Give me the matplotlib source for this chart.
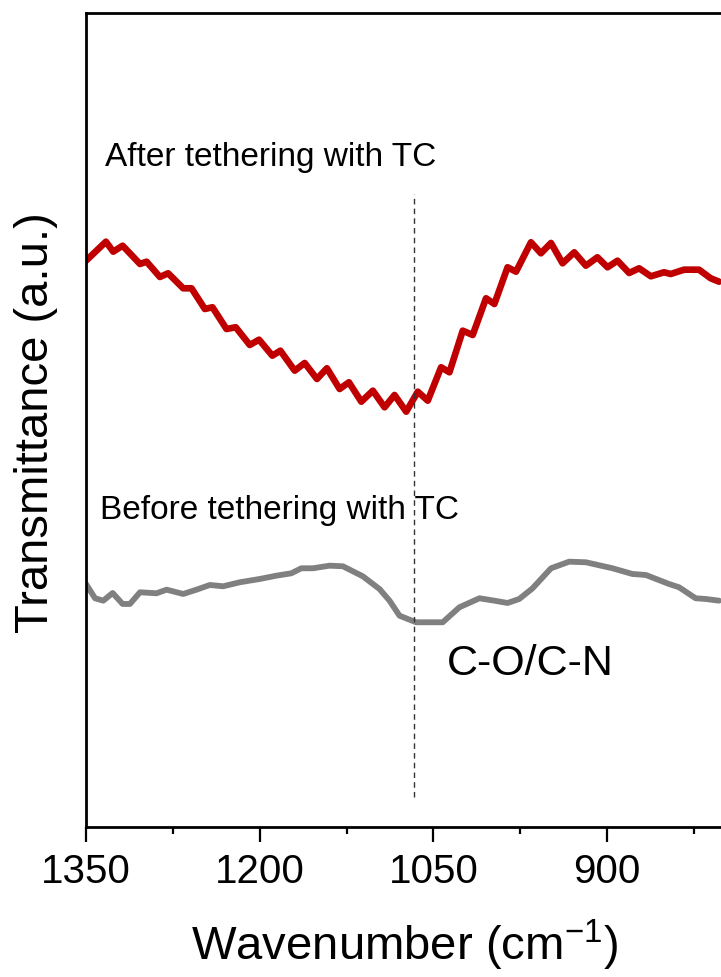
import matplotlib
matplotlib.use("Agg")
import matplotlib.pyplot as plt
from matplotlib.ticker import MultipleLocator

plt.rcParams['font.family'] = ['Liberation Sans', 'DejaVu Sans']
plt.rcParams['mathtext.fontset'] = 'custom'
plt.rcParams['mathtext.rm'] = 'Liberation Sans'

# FTIR spectra, wavenumber (cm-1) vs transmittance (a.u., offset for display)
wn_after = [1350, 1332.8, 1326.5, 1318.4, 1303.4, 1297.7, 1286.2, 1279.1, 1266.1, 1258.9,
            1247.4, 1240.8, 1228.7, 1220.7, 1208.6, 1200.6, 1189.1, 1182.2, 1169.8, 1161.2,
            1150.6, 1142, 1131, 1123, 1112.3, 1102.3, 1092.2, 1083.6, 1073.5, 1063.5,
            1054.9, 1043.4, 1036.2, 1024.7, 1016.1, 1004.6, 997.4, 986, 978.7, 965.8,
            957.2, 948.5, 938.5, 928.4, 918.4, 908.4, 899.7, 891.1, 881, 872.4,
            862.3, 850.9, 845.1, 833.6, 820.7, 810.6, 803.4]
tr_after = [566.3, 585.3, 575.3, 581.3, 563, 565.3, 550, 553.7, 538.7, 538.7,
            518, 519.7, 498, 499.7, 482, 487.3, 471.3, 476.3, 456.3, 464,
            448, 458.7, 438, 444.7, 425.3, 436.3, 419.7, 432, 415.3, 435.3,
            426.3, 459.7, 454.7, 496.3, 492, 528.7, 523, 559.7, 555.3, 584.7,
            573.7, 584, 563.7, 574.7, 561.3, 569.7, 559.7, 566.3, 554, 558.7,
            550.7, 554.7, 553, 557.3, 557.3, 548.7, 545.3]

wn_before = [1350, 1342.2, 1335.1, 1327, 1318.4, 1312.1, 1303.4, 1289.1, 1280.4, 1266.1,
             1254.6, 1243.1, 1231.6, 1217.2, 1200, 1185.6, 1172.7, 1164.1, 1154.1, 1139.7,
             1128.2, 1111, 1102.3, 1096.6, 1087.9, 1079.3, 1072.2, 1064.9, 1042, 1027.6,
             1010.3, 997.4, 986, 975.9, 964.4, 948.5, 932.8, 918.4, 895.4, 878.2,
             866.6, 846.6, 837.9, 823.6, 814.9, 803.4]
tr_before = [243, 228.7, 226.3, 234, 223, 223, 234.7, 233.7, 237.3, 233,
             237.3, 242, 240.7, 244.7, 248, 251.3, 253.7, 258.7, 258.7, 261.3,
             260.7, 250.7, 243, 238, 226.3, 211.3, 208, 204.7, 204.7, 219.7,
             228.7, 226.3, 224, 228, 238.7, 258.7, 265.3, 264.7, 258.7, 253,
             252, 243, 239.7, 228.7, 228, 226.3]

band_pos = 1067          # C-O / C-N band
band_span = (30, 633)

fig = plt.figure(figsize=(7.21, 9.78), dpi=100)
ax = fig.add_axes([0.1193, 0.1534, 0.8995, 0.8323])

ax.plot(wn_after, tr_after, color='#C00000', lw=4.8, solid_joinstyle='round', solid_capstyle='round')
ax.plot(wn_before, tr_before, color='#808080', lw=4.2, solid_joinstyle='round', solid_capstyle='round')
ax.plot([band_pos, band_pos], band_span, color='#333333', lw=1.0, ls=(0, (4, 3)))

ax.text(1333.6, 670, 'After tethering with TC', fontsize=24, ha='left', va='center')
ax.text(1337.9, 317, 'Before tethering with TC', fontsize=24, ha='left', va='center')
ax.text(1038.8, 164, 'C-O/C-N', fontsize=31, ha='left', va='center')

ax.set_xlim(1350, 790)
ax.set_ylim(0, 814)
ax.xaxis.set_major_locator(MultipleLocator(150))
ax.xaxis.set_minor_locator(MultipleLocator(75))
ax.set_yticks([])

for side in ['left', 'top', 'bottom']:
    ax.spines[side].set_linewidth(2.0)
ax.spines['right'].set_visible(False)

ax.tick_params(axis='x', which='major', direction='out', length=10.8, width=1.6,
               labelsize=29, pad=7)
ax.tick_params(axis='x', which='minor', direction='out', length=5, width=1.6)

fig.text(0.05, 0.5675, 'Transmittance (a.u.)', fontsize=34, rotation=90,
         ha='center', va='center')
fig.text(0.5617, 0.0337, 'Wavenumber (cm$^{-1}$)', fontsize=34, ha='center', va='center')

fig.savefig('out.png', dpi=100)
